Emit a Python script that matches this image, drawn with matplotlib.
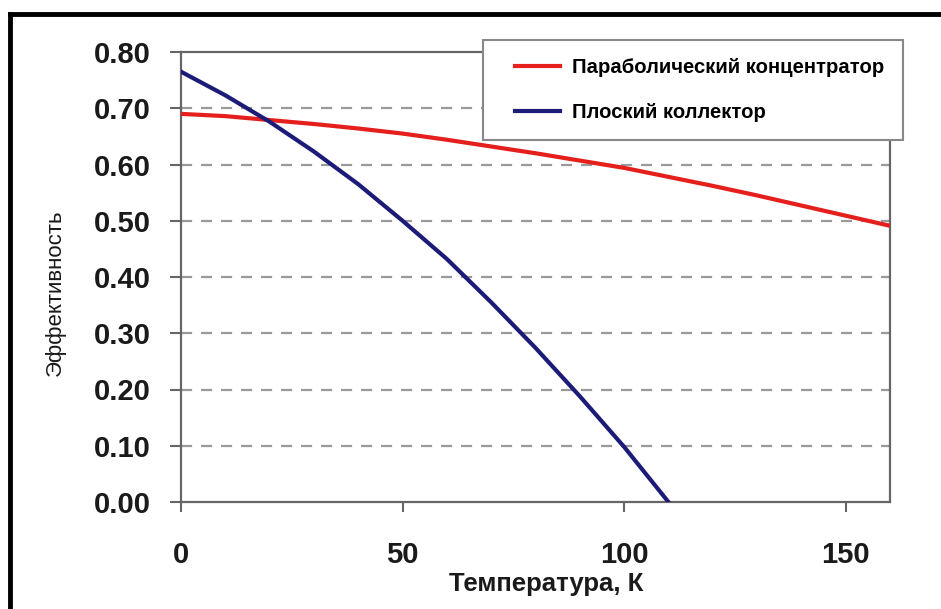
import matplotlib.pyplot as plt
from matplotlib.lines import Line2D
from matplotlib.legend_handler import HandlerLine2D

plt.rcParams['font.family'] = ['Liberation Sans', 'DejaVu Sans']

temp_flat = [0, 10, 20, 30, 40, 50, 60, 70, 80, 90, 100, 110]
eff_flat = [0.765, 0.723, 0.676, 0.623, 0.565, 0.500, 0.432, 0.355, 0.274, 0.188, 0.098, 0.000]

temp_par = [0, 10, 20, 30, 40, 50, 60, 70, 80, 90, 100, 110, 120, 130, 140, 150, 160]
eff_par = [0.690, 0.686, 0.679, 0.672, 0.664, 0.655, 0.644, 0.632, 0.620, 0.607, 0.594,
           0.578, 0.562, 0.545, 0.527, 0.509, 0.491]

label_par = 'Параболический концентратор'
label_flat = 'Плоский коллектор'
x_ticks = [0, 50, 100, 150]
y_ticks = [0.0, 0.1, 0.2, 0.3, 0.4, 0.5, 0.6, 0.7, 0.8]

W, H = 941, 609
fig = plt.figure(figsize=(W / 100, H / 100), dpi=100)
ax = fig.add_axes([181 / W, 1 - 502 / H, (890 - 181) / W, (502 - 52) / H])

l1, = ax.plot(temp_par, eff_par, color='#e41f1c', lw=3, label=label_par, zorder=3)
l2, = ax.plot(temp_flat, eff_flat, color='#1c1c78', lw=3, label=label_flat, zorder=3)

ax.set_xlim(0, 160)
ax.set_ylim(0, 0.8)
ax.set_xticks(x_ticks)
ax.set_yticks(y_ticks)
ax.set_yticklabels(['%.2f' % v for v in y_ticks])
for v in y_ticks[1:-1]:
    ax.axhline(v, color='#9a9a9a', lw=1.6, ls=(0, (5, 4)), zorder=1)

for s in ax.spines.values():
    s.set_color('#666666')
    s.set_linewidth(1.6)
ax.tick_params(axis='y', direction='out', length=8, width=1.5, color='#666666',
               labelsize=21, pad=14)
ax.tick_params(axis='x', direction='out', length=7, width=1.5, color='#666666',
               labelsize=21, pad=21)
for lab in ax.get_xticklabels() + ax.get_yticklabels():
    lab.set_fontweight('bold')
    lab.set_color('#1a1a1a')

ax.set_xlabel('Температура, К', fontsize=18.5, fontweight='bold', color='#1a1a1a')
ax.xaxis.set_label_coords(0.515, -0.155)
ax.set_ylabel('Эффективность', fontsize=16, color='#1a1a1a')
ax.yaxis.set_label_coords(-0.162, 0.464)

leg = fig.legend(handles=[l1, l2], loc='upper left', bbox_to_anchor=(483 / W, 1 - 40 / H),
                 borderaxespad=0, frameon=True, fancybox=False, edgecolor='#888888',
                 framealpha=1, prop={'size': 14.6, 'weight': 'bold'}, handlelength=2.9,
                 labelspacing=1.25, borderpad=0.9, handletextpad=0.6,
                 handler_map={Line2D: HandlerLine2D(xpad=0.7)})
leg.get_frame().set_linewidth(1.5)

# outer frame
fig.add_artist(Line2D([10 / W, 10 / W], [0, 1 - 14 / H], transform=fig.transFigure,
                      color='black', lw=3.5))
fig.add_artist(Line2D([10 / W, 1], [1 - 14 / H, 1 - 14 / H], transform=fig.transFigure,
                      color='black', lw=3.5))

fig.savefig('out.png', dpi=100)
